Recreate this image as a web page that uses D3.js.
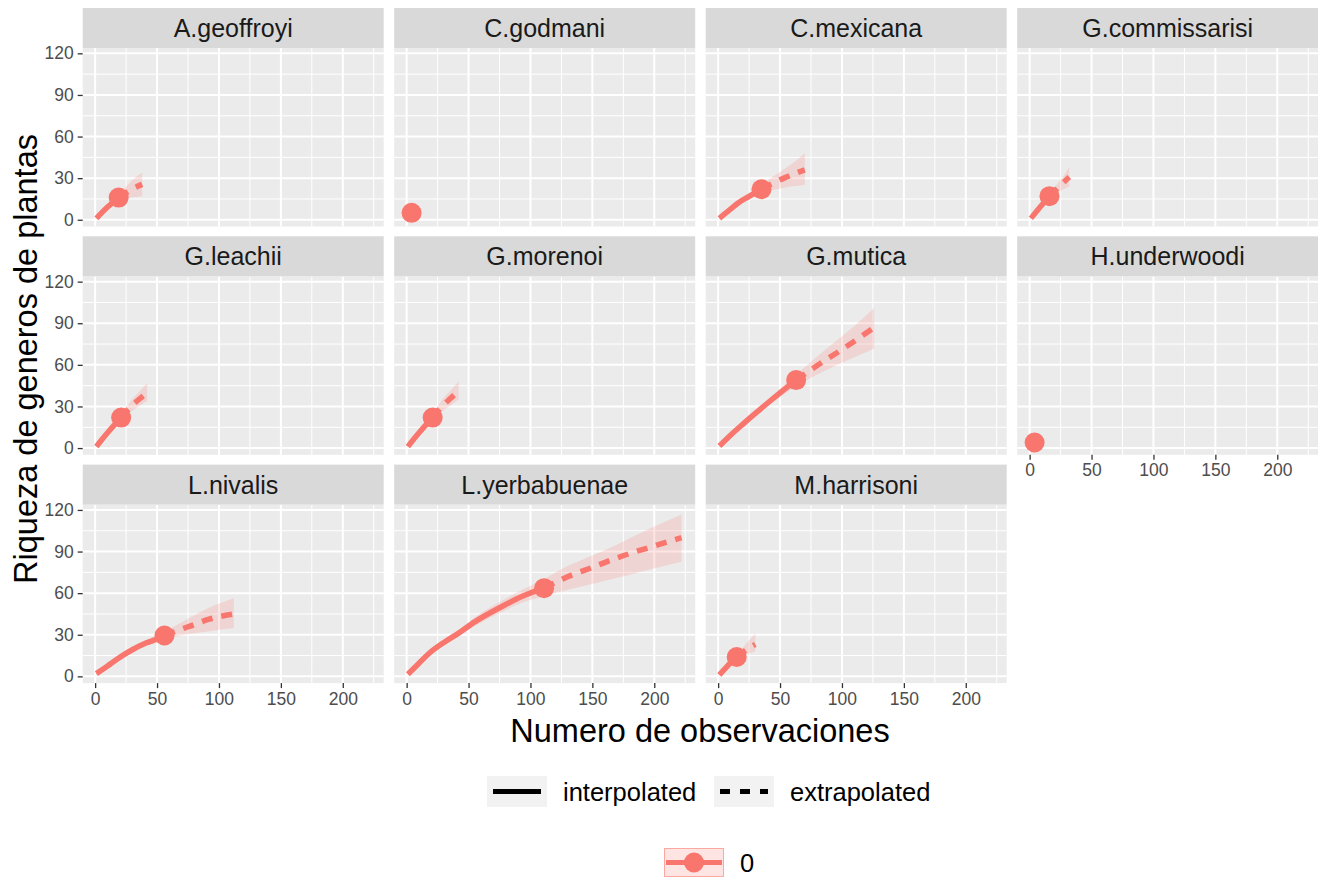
<!DOCTYPE html>
<html><head><meta charset="utf-8">
<script src="https://cdn.jsdelivr.net/npm/d3@7"></script>
<style>body{margin:0;background:#fff}svg{display:block}text{font-family:"Liberation Sans",Arial,sans-serif}</style>
</head><body>
<svg id="c" width="1318" height="880"></svg>
<script>
// ---- data ----
const species = ["A.geoffroyi","C.godmani","C.mexicana","G.commissarisi","G.leachii","G.morenoi","G.mutica","H.underwoodi","L.nivalis","L.yerbabuenae","M.harrisoni"];
const refN = [19, 4, 35, 16, 21, 21, 63, 4, 56, 111, 15];
const refS = [16, 5, 22, 17, 22, 22, 49, 4, 29.5, 63.6, 14];
// rows: [m, qD, lower, upper]
const interp_Ageoffroyi = [[1,1,1,1.2],[5,4.8,4.5,5.2],[10,9.2,8.5,10],[15,13,12,14.3],[19,16,14,18]];
const extrap_Ageoffroyi = [[19,16,14,18],[25,19.5,15.5,24],[30,22.2,16.2,28.5],[38,25.5,17,34]];
const interp_Cgodmani = [];
const extrap_Cgodmani = [];
const interp_Cmexicana = [[1,1,1,1.5],[5,4,3.6,4.5],[10,7.6,7,8.6],[17,12.7,11.8,13.8],[25,16.9,15.6,18.4],[30,19.6,18,21.8],[35,22.3,19.8,25]];
const extrap_Cmexicana = [[35,22.3,19.8,25],[45,26.7,21.6,31.6],[54,30.4,23.3,37],[62,33.3,24.3,42],[70,36,25,48]];
const interp_Gcommissarisi = [[1,1,1,1.2],[5,5.4,5,5.8],[10,10.8,10,11.6],[16,17,15.5,18.5]];
const extrap_Gcommissarisi = [[16,17,15.5,18.5],[20,20.5,18.5,23.5],[26,25.8,21.5,30],[32,30.8,24,38]];
const interp_Gleachii = [[1,1,1,1.3],[5,5.6,5.2,6],[10,11,10.3,11.8],[15,16.2,15,17.4],[21,22,20,24]];
const extrap_Gleachii = [[21,22,20,24],[28,29,25.5,33],[35,34.8,30,40],[42,40,34,47]];
const interp_Gmorenoi = [[1,1,1,1.3],[5,5.6,5.2,6],[10,11,10.3,11.8],[15,16.2,15,17.4],[21,22,20,24]];
const extrap_Gmorenoi = [[21,22,20,24],[28,29.5,26,34],[35,35.5,30.5,41],[42,41,35,48]];
const interp_Gmutica = [[1,1.5,1,2],[10,9.3,8.6,10.1],[20,17.3,16,18.7],[30,25,23.2,27],[40,32.5,30.2,35],[50,39.8,36.8,42.9],[63,49,45,53]];
const extrap_Gmutica = [[63,49,45,53],[80,59.5,53,66],[95,68.2,59.5,77],[110,77,65.5,88],[126,87,71.7,101]];
const interp_Hunderwoodi = [];
const extrap_Hunderwoodi = [];
const interp_Lnivalis = [[1,2,1,3],[10,7.5,6.5,8.5],[17,12,11,13],[30,19.2,17.5,21],[41,24,22,26],[52,27.7,25,30.5],[56,29.5,26.5,32.2]];
const extrap_Lnivalis = [[56,29.5,26.5,32.2],[66,32.9,28.8,37],[76,36,30.5,42],[92,41.2,32.5,49.5],[112,45,34.8,56.4]];
const interp_Lyerbabuenae = [[1,1.5,1,2],[10,9.5,8.6,10.5],[18,16.5,15.3,18],[31,25,23.3,27],[42,31.2,29,33.5],[55,39.3,36.4,42.5],[77,50.4,46.5,54.5],[93,57.6,53,62.2],[111,63.6,57.5,70]];
const extrap_Lyerbabuenae = [[111,63.6,57.5,70],[130,71.8,62.5,79.5],[149,78.2,66.5,86.8],[165,83.8,70,93],[181,88.8,73.5,100],[200,94,78,108],[222,100,82.7,116.8]];
const interp_Mharrisoni = [[1,1,1,1.3],[5,5,4.6,5.4],[10,9.8,9,10.6],[15,14,12.5,15.8]];
const extrap_Mharrisoni = [[15,14,12.5,15.8],[20,17.4,14.6,20.6],[25,20.4,16.5,26],[30,23,18,31]];

const interpList = [interp_Ageoffroyi, interp_Cgodmani, interp_Cmexicana, interp_Gcommissarisi, interp_Gleachii, interp_Gmorenoi, interp_Gmutica, interp_Hunderwoodi, interp_Lnivalis, interp_Lyerbabuenae, interp_Mharrisoni];
const extrapList = [extrap_Ageoffroyi, extrap_Cgodmani, extrap_Cmexicana, extrap_Gcommissarisi, extrap_Gleachii, extrap_Gmorenoi, extrap_Gmutica, extrap_Hunderwoodi, extrap_Lnivalis, extrap_Lyerbabuenae, extrap_Mharrisoni];

const xTicks = [0, 50, 100, 150, 200];
const xMinor = [25, 75, 125, 175, 225];
const yTicks = [0, 30, 60, 90, 120];
const yMinor = [15, 45, 75, 105];
const xTitle = "Numero de observaciones";
const yTitle = "Riqueza de generos de plantas";
const lineLegend = ["interpolated", "extrapolated"];
const groupLegend = ["0"];

// ---- layout ----
const col = "#F8766D";
const panelLeft0 = 82.7, panelW = 301, colStep = 311.5;
const stripTop0 = 8, stripH = 40, panelH = 178.5, rowStep = 228.3;
const FONT = "Liberation Sans, Arial, sans-serif";

const svg = d3.select("#c");
const x = d3.scaleLinear().domain([-10.05, 233.05]).range([0, panelW]);
const y = d3.scaleLinear().domain([-4.85, 123.85]).range([panelH, 0]);

const area = d3.area().x(d => x(d[0])).y0(d => y(d[2])).y1(d => y(d[3])).curve(d3.curveMonotoneX);
const line = d3.line().x(d => x(d[0])).y(d => y(d[1])).curve(d3.curveMonotoneX);

species.forEach((sp, i) => {
  const r = Math.floor(i / 4), c = i % 4;
  const px = panelLeft0 + c * colStep;
  const sy = stripTop0 + r * rowStep;
  const py = sy + stripH;
  const g = svg.append("g").attr("transform", `translate(${px},${py})`);
  // strip
  svg.append("rect").attr("x", px).attr("y", sy).attr("width", panelW).attr("height", stripH).attr("fill", "#D9D9D9");
  svg.append("text").attr("x", px + panelW / 2).attr("y", sy + stripH / 2 + 9)
    .attr("text-anchor", "middle").attr("font-size", 25).attr("fill", "#1A1A1A").text(sp);
  // panel bg
  g.append("rect").attr("width", panelW).attr("height", panelH).attr("fill", "#EBEBEB");
  const clipId = "clip" + i;
  g.append("clipPath").attr("id", clipId).append("rect").attr("width", panelW).attr("height", panelH);
  const grid = g.append("g");
  xMinor.forEach(v => grid.append("line").attr("x1", x(v)).attr("x2", x(v)).attr("y1", 0).attr("y2", panelH).attr("stroke", "#fff").attr("stroke-width", 1));
  yMinor.forEach(v => grid.append("line").attr("y1", y(v)).attr("y2", y(v)).attr("x1", 0).attr("x2", panelW).attr("stroke", "#fff").attr("stroke-width", 1));
  xTicks.forEach(v => grid.append("line").attr("x1", x(v)).attr("x2", x(v)).attr("y1", 0).attr("y2", panelH).attr("stroke", "#fff").attr("stroke-width", 2));
  yTicks.forEach(v => grid.append("line").attr("y1", y(v)).attr("y2", y(v)).attr("x1", 0).attr("x2", panelW).attr("stroke", "#fff").attr("stroke-width", 2));
  const data = g.append("g").attr("clip-path", `url(#${clipId})`);
  const ip = interpList[i], ep = extrapList[i];
  if (ip.length) data.append("path").attr("d", area(ip)).attr("fill", col).attr("fill-opacity", 0.2);
  if (ep.length) data.append("path").attr("d", area(ep)).attr("fill", col).attr("fill-opacity", 0.2);
  if (ip.length) data.append("path").attr("d", line(ip)).attr("fill", "none").attr("stroke", col).attr("stroke-width", 5.5);
  if (ep.length) data.append("path").attr("d", line(ep)).attr("fill", "none").attr("stroke", col).attr("stroke-width", 5.5).attr("stroke-dasharray", "11,9");
  data.append("circle").attr("cx", x(refN[i])).attr("cy", y(refS[i])).attr("r", 10).attr("fill", col);
  // axes
  if (c === 0) {
    const ax = g.append("g").call(d3.axisLeft(y).tickValues(yTicks).tickSize(5).tickPadding(4));
    ax.select(".domain").remove();
    ax.selectAll(".tick line").attr("stroke", "#333").attr("stroke-width", 1.3);
    ax.selectAll(".tick text").attr("font-size", 17.5).attr("fill", "#4D4D4D").attr("font-family", FONT);
  }
  if (i >= 7) {
    const ax = g.append("g").attr("transform", `translate(0,${panelH})`).call(d3.axisBottom(x).tickValues(xTicks).tickSize(5).tickPadding(4));
    ax.select(".domain").remove();
    ax.selectAll(".tick line").attr("stroke", "#333").attr("stroke-width", 1.3);
    ax.selectAll(".tick text").attr("font-size", 17.5).attr("fill", "#4D4D4D").attr("font-family", FONT);
  }
});

// axis titles
svg.append("text").attr("x", 700).attr("y", 742).attr("text-anchor", "middle").attr("font-size", 32.5).attr("fill", "#000").text(xTitle);
svg.append("text").attr("transform", "translate(37,359) rotate(-90)").attr("text-anchor", "middle").attr("font-size", 32.5).attr("fill", "#000").text(yTitle);

// legend row 1
const leg1 = [{x: 487, t: lineLegend[0], dash: null}, {x: 714, t: lineLegend[1], dash: "10,10"}];
leg1.forEach(d => {
  svg.append("rect").attr("x", d.x).attr("y", 776).attr("width", 60).attr("height", 31).attr("fill", "#F2F2F2");
  const l = svg.append("line").attr("x1", d.x + 6).attr("x2", d.x + 54).attr("y1", 791.5).attr("y2", 791.5).attr("stroke", "#000").attr("stroke-width", 5);
  if (d.dash) l.attr("stroke-dasharray", d.dash);
  svg.append("text").attr("x", d.x + 76).attr("y", 801).attr("font-size", 25.5).attr("fill", "#000").text(d.t);
});
// legend row 2
svg.append("rect").attr("x", 664.5).attr("y", 848.5).attr("width", 59).attr("height", 28).attr("fill", col).attr("fill-opacity", 0.2).attr("stroke", col).attr("stroke-opacity", 0.6).attr("stroke-width", 1);
svg.append("line").attr("x1", 666).attr("x2", 722).attr("y1", 862.5).attr("y2", 862.5).attr("stroke", col).attr("stroke-width", 5);
svg.append("circle").attr("cx", 694).attr("cy", 862.5).attr("r", 10).attr("fill", col);
svg.append("text").attr("x", 740).attr("y", 872).attr("font-size", 25.5).attr("fill", "#000").text(groupLegend[0]);
</script>
</body></html>
